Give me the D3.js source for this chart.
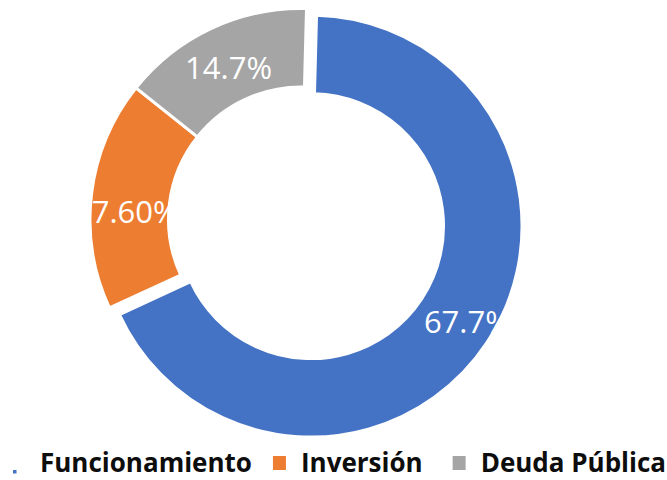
<!DOCTYPE html>
<html>
<head>
<meta charset="utf-8">
<script src="https://cdn.jsdelivr.net/npm/d3@7"></script>
<style>
  body { margin: 0; background: #fff; }
  svg { display: block; }
</style>
</head>
<body>
<svg id="donut" width="667" height="480"></svg>
<script>
const width = 667;
const height = 480;

// data
const categories = ["Funcionamiento", "Inversión", "Deuda Pública"];
const shares = [67.7, 17.6, 14.7];
const labels = ["67.7%", "17.60%", "14.7%"];
const colors = ["#4472C4", "#ED7D31", "#A5A5A5"];

// layout
const cx = 301;
const cy = 219.5;
const outerR = 211;
const innerR = 132.5;
const explode = 12;          // only the first slice is pulled out
const startOffset = 1.5 * Math.PI / 180;
const labelR = 174;
// labels were dragged a little off their centroids in the original
const labelNudge = [[11, 0], [-2, 13], [1, 6]];

const svg = d3.select("#donut");

const pie = d3.pie()
    .sort(null)
    .value(d => d.value)
    .startAngle(startOffset)
    .endAngle(startOffset + 2 * Math.PI);

const rows = categories.map((c, i) => ({ name: c, value: shares[i], label: labels[i], color: colors[i], idx: i }));
const arcs = pie(rows);

const arc = d3.arc().innerRadius(innerR).outerRadius(outerR);
const labelArc = d3.arc().innerRadius(labelR).outerRadius(labelR);

function offset(d) {
    if (d.data.idx !== 0) return [0, 0];
    const mid = (d.startAngle + d.endAngle) / 2;
    return [explode * Math.sin(mid), -explode * Math.cos(mid)];
}

const g = svg.append("g").attr("transform", `translate(${cx},${cy})`);

// slices
g.selectAll("path.slice")
    .data(arcs)
    .join("path")
    .attr("class", "slice")
    .attr("d", arc)
    .attr("fill", d => d.data.color)
    .attr("stroke", "#fff")
    .attr("stroke-width", 3)
    .attr("transform", d => `translate(${offset(d)})`);

// data labels (white, so the part outside the ring disappears)
g.selectAll("text.lbl")
    .data(arcs)
    .join("text")
    .attr("class", "lbl")
    .attr("transform", d => {
        const c = labelArc.centroid(d);
        const o = offset(d);
        const n = labelNudge[d.data.idx];
        return `translate(${c[0] + o[0] + n[0]},${c[1] + o[1] + n[1]})`;
    })
    .attr("text-anchor", "middle")
    .attr("dy", "0.36em")
    .attr("fill", "#fff")
    .attr("font-family", "'Open Sans', sans-serif")
    .attr("font-size", "31px")
    .text(d => d.data.label);

// legend
const legend = svg.append("g").attr("class", "legend");
const legendY = 472;
const sw = 13;
const gaps = [21, 30];
let x = 13;
rows.forEach((d, i) => {
    let tx;
    if (i === 0) {
        // first marker is shrunk to a small dot in the original
        legend.append("rect")
            .attr("x", x).attr("y", legendY - 2)
            .attr("width", 3.5).attr("height", 3.5)
            .attr("fill", d.color);
        tx = x + 27;
    } else {
        legend.append("rect")
            .attr("x", x).attr("y", legendY - 16)
            .attr("width", sw).attr("height", 14)
            .attr("fill", d.color);
        tx = x + sw + 15;
    }
    const t = legend.append("text")
        .attr("x", tx)
        .attr("y", legendY)
        .attr("font-family", "'Open Sans', sans-serif")
        .attr("font-weight", "bold")
        .attr("font-size", "26px")
        .attr("fill", "#0d0d0d")
        .text(d.name);
    x = tx + t.node().getComputedTextLength() + (gaps[i] || 0);
});
</script>
</body>
</html>
